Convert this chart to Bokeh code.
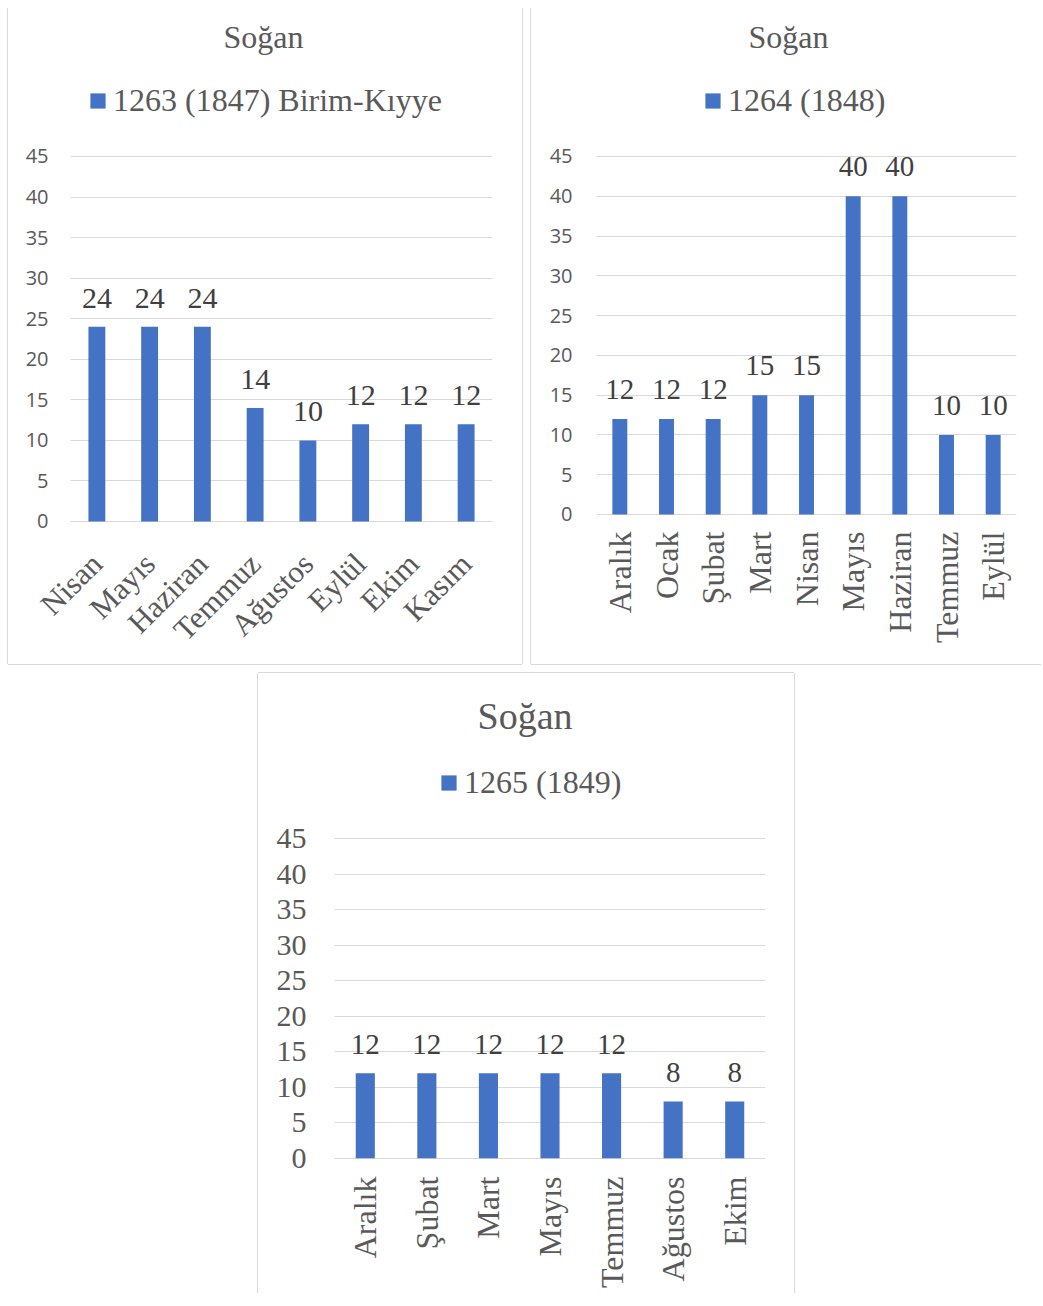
import math
from bokeh.plotting import figure
from bokeh.models import (Range1d, FactorRange, FixedTicker, Title, Legend, LegendItem,
                          ColumnDataSource, Spacer)
from bokeh.layouts import column, row
from bokeh.embed import file_html
from bokeh.resources import INLINE
from bokeh.core.properties import value

# ---------------- data ----------------
chart_title = "Soğan"
y_ticks = [0, 5, 10, 15, 20, 25, 30, 35, 40, 45]

months_1 = ["Nisan", "Mayıs", "Haziran", "Temmuz", "Ağustos", "Eylül", "Ekim", "Kasım"]
values_1 = [24, 24, 24, 14, 10, 12, 12, 12]
series_1 = "1263 (1847) Birim-Kıyye"

months_2 = ["Aralık", "Ocak", "Şubat", "Mart", "Nisan", "Mayıs", "Haziran", "Temmuz", "Eylül"]
values_2 = [12, 12, 12, 15, 15, 40, 40, 10, 10]
series_2 = "1264 (1848)"

months_3 = ["Aralık", "Şubat", "Mart", "Mayıs", "Temmuz", "Ağustos", "Ekim"]
values_3 = [12, 12, 12, 12, 12, 8, 8]
series_3 = "1265 (1849)"

BAR = "#4472C4"
GRID = "#d9d9d9"
SERIF = "Liberation Serif"


def make_chart(cats, vals, series, c):
    p = figure(width=c["width"], height=c["height"],
               x_range=FactorRange(*cats), y_range=Range1d(c["y0"], c["y1"]),
               output_backend="svg", toolbar_location=None,
               min_border_left=c["ml"], min_border_right=c["mr"],
               min_border_top=c["mt"], min_border_bottom=c["mb"])
    p.title = Title(text=chart_title, align="left", offset=c["t_off"], standoff=c["t_stand"],
                    text_font=SERIF, text_font_size=c["t_size"], text_font_style="normal",
                    text_color="#595959")
    p.outline_line_color = None
    p.background_fill_color = "white"
    p.border_fill_color = "white"

    src = ColumnDataSource(dict(cat=cats, val=vals, lab=[str(v) for v in vals]))
    r = p.vbar(x="cat", top="val", width=c["bw"], source=src,
               fill_color=BAR, line_color=None)
    p.text(x="cat", y="val", text="lab", source=src, text_align="center",
           text_baseline="middle", y_offset=c["lab_off"],
           text_font=value(SERIF), text_font_size=value(c["lab_size"]),
           text_color="#404040")

    legend = Legend(items=[LegendItem(label=value(series), renderers=[r])],
                    location=(c["lx"], c["ly"]), orientation="horizontal",
                    glyph_width=19, glyph_height=19, label_standoff=6,
                    label_text_font=SERIF, label_text_font_size=c["leg_size"],
                    label_text_color="#595959", border_line_color=None,
                    background_fill_alpha=0, padding=0, margin=0, spacing=0)
    p.add_layout(legend)

    p.xgrid.grid_line_color = None
    p.ygrid.ticker = FixedTicker(ticks=y_ticks)
    p.ygrid.grid_line_color = GRID
    p.ygrid.grid_line_width = 1

    ya = p.yaxis[0]
    ya.ticker = FixedTicker(ticks=y_ticks)
    ya.axis_line_color = None
    ya.major_tick_line_color = None
    ya.minor_tick_line_color = None
    ya.major_tick_out = 0
    ya.major_tick_in = 0
    ya.major_label_standoff = c["ytick_stand"]
    ya.major_label_text_font = c["ytick_font"]
    ya.major_label_text_font_size = c["ytick_size"]
    ya.major_label_text_color = "#595959"

    xa = p.xaxis[0]
    xa.axis_line_color = None
    xa.major_tick_line_color = None
    xa.major_tick_out = 0
    xa.major_tick_in = 0
    xa.major_label_orientation = c["angle"]
    xa.major_label_standoff = c["cat_stand"]
    xa.major_label_text_font = SERIF
    xa.major_label_text_font_size = c["cat_size"]
    xa.major_label_text_color = "#595959"

    p.styles = {"box-shadow": c["shadow"]}
    return p


cfg1 = dict(width=514, height=656, ml=62, mr=30, mt=50, mb=141,
            y0=-0.2466, y1=57.082, bw=0.32,
            ytick_font="Open Sans", ytick_size="20px", ytick_stand=22,
            angle=math.pi / 4, cat_size="31px", cat_stand=35,
            lab_size="30px", lab_off=-28.5,
            t_size="32px", t_off=153, t_stand=7,
            leg_size="32px", lx=18, ly=404,
            shadow="-1px 0 0 0 #d9d9d9, 1px 0 0 0 #d9d9d9, 0 1px 0 0 #d9d9d9")
cfg2 = dict(width=510, height=656, ml=65, mr=25, mt=50, mb=141,
            y0=-1.1313, y1=57.318, bw=0.32,
            ytick_font="Open Sans", ytick_size="20px", ytick_stand=24,
            angle=math.pi / 2, cat_size="32px", cat_stand=8,
            lab_size="29px", lab_off=-29.5,
            t_size="32px", t_off=152, t_stand=7,
            leg_size="32px", lx=107, ly=404,
            shadow="-1px 0 0 0 #d9d9d9, 0 1px 0 0 #d9d9d9")
cfg3 = dict(width=536, height=620, ml=76, mr=29, mt=76, mb=133,
            y0=-0.31, y1=57.613, bw=0.31,
            ytick_font=SERIF, ytick_size="30px", ytick_stand=28,
            angle=math.pi / 2, cat_size="32px", cat_stand=16,
            lab_size="29px", lab_off=-29,
            t_size="38px", t_off=143, t_stand=25.4,
            leg_size="32px", lx=105, ly=359.5,
            shadow="-1px 0 0 0 #d9d9d9, 1px 0 0 0 #d9d9d9, 0 -1px 0 0 #d9d9d9")

p1 = make_chart(months_1, values_1, series_1, cfg1)
p2 = make_chart(months_2, values_2, series_2, cfg2)
p3 = make_chart(months_3, values_3, series_3, cfg3)

layout = column(Spacer(height=8),
                row(Spacer(width=8), p1, Spacer(width=9), p2),
                Spacer(height=9),
                row(Spacer(width=258), p3))

open("out.html", "w").write(file_html(layout, INLINE))
